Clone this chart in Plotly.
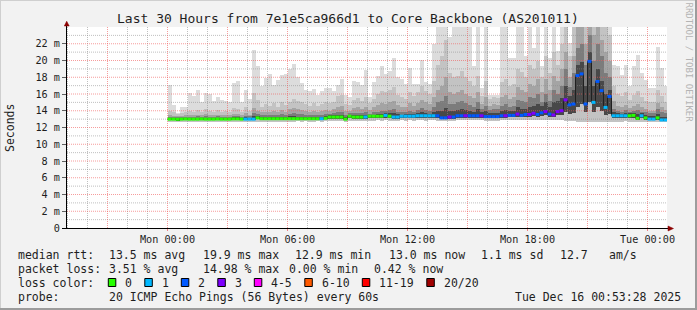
import plotly.graph_objects as go

# ---------------- data ----------------
bin_start_hour = 0.0      # first consolidated sample: Mon 00:00
bin_hours = 0.2           # 12-minute step

median_ms = [
    13.0, 13.0, 12.98, 13.0, 13.02, 13.0, 13.0, 13.0, 13.02, 13.0,
    13.0, 13.0, 13.02, 13.0, 13.0, 13.0, 13.03, 13.03, 13.0, 13.0,
    13.0, 13.0, 13.15, 13.05, 13.05, 13.05, 13.05, 13.05, 13.05, 13.05,
    13.05, 13.05, 13.05, 13.05, 13.05, 13.05, 13.05, 13.05, 13.05, 13.1,
    13.25, 13.25, 13.25, 13.25, 13.0, 13.35, 13.25, 13.25, 13.25, 13.25,
    13.35, 13.35, 13.35, 13.35, 13.45, 13.35, 13.25, 13.25, 13.35, 13.35,
    13.35, 13.35, 13.4, 13.4, 13.4, 13.4, 13.4, 13.4, 13.15, 13.15,
    13.25, 13.25, 13.4, 13.4, 13.4, 13.4, 13.4, 13.4, 13.4, 13.3,
    13.3, 13.3, 13.3, 13.4, 13.4, 13.45, 13.45, 13.6, 13.45, 13.55,
    13.55, 13.7, 13.55, 13.75, 13.9, 13.6, 13.5, 13.9, 14.0, 15.3,
    14.7, 14.8, 18.2, 18.4, 14.8, 19.9, 15.0, 17.5, 16.4, 14.4,
    15.7, 13.4, 13.4, 13.4, 13.4, 13.4, 13.45, 13.1, 13.4, 13.15,
    13.0, 13.0, 13.15, 12.9, 12.9,
]

loss_idx = [
    0, 0, 0, 0, 0, 0, 0, 0, 0, 0,
    0, 0, 0, 0, 0, 0, 0, 0, 0, 1,
    1, 1, 0, 0, 0, 0, 0, 0, 0, 0,
    0, 0, 0, 0, 0, 0, 0, 0, 1, 0,
    0, 0, 0, 0, 0, 0, 0, 0, 0, 1,
    0, 0, 0, 0, 1, 0, 1, 1, 1, 1,
    1, 1, 1, 1, 1, 1, 1, 2, 2, 2,
    3, 2, 2, 2, 3, 2, 2, 2, 3, 2,
    2, 2, 2, 2, 3, 2, 2, 3, 2, 2,
    3, 3, 2, 2, 3, 2, 3, 3, 3, 3,
    2, 2, 2, 2, 2, 2, 1, 2, 2, 1,
    2, 1, 1, 1, 1, 0, 0, 0, 1, 0,
    1, 1, 0, 1, 1,
]

smoke_max = [
    17.1, 14.7, 13.7, 14.5, 14.5, 16.1, 15.8, 16.5, 15.0, 16.1,
    16.0, 15.2, 15.6, 15.3, 15.2, 15.0, 17.3, 17.6, 15.0, 16.5,
    15.4, 21.2, 19.4, 16.9, 17.9, 18.4, 17.1, 17.7, 18.3, 18.4,
    19.0, 19.6, 18.0, 17.3, 16.5, 16.3, 16.6, 15.9, 16.4, 16.7,
    16.7, 16.4, 17.1, 17.8, 15.9, 15.7, 17.6, 17.4, 17.1, 18.9,
    15.6, 17.4, 18.1, 19.4, 18.4, 18.8, 20.3, 18.0, 17.8, 17.2,
    19.1, 17.2, 17.2, 20.1, 17.4, 17.2, 22.0, 24.5, 24.5, 24.5,
    22.8, 24.5, 24.5, 24.5, 24.5, 24.5, 19.3, 24.5, 16.7, 24.5,
    15.9, 15.9, 15.9, 24.5, 24.5, 20.3, 20.3, 24.5, 24.5, 20.5,
    24.5, 21.5, 24.5, 19.3, 24.5, 20.3, 24.5, 21.1, 24.5, 24.5,
    22.1, 24.5, 24.5, 24.5, 24.5, 24.5, 24.5, 24.5, 24.5, 24.5,
    24.5, 19.5, 19.3, 18.3, 19.5, 16.9, 19.3, 20.7, 18.5, 17.7,
    16.7, 16.7, 21.6, 19.1, 17.0,
]

smoke_hi = [
    14.0, 13.8, 13.6, 13.7, 13.8, 14.0, 13.9, 14.1, 13.8, 14.2,
    14.0, 13.9, 14.1, 13.9, 14.0, 13.8, 14.3, 14.2, 13.9, 14.4,
    14.0, 16.1, 15.3, 14.5, 14.8, 14.6, 14.9, 14.4, 15.0, 14.7,
    15.1, 15.4, 15.2, 15.0, 14.8, 14.6, 14.9, 14.6, 14.8, 15.0,
    14.9, 15.1, 15.8, 15.9, 14.8, 14.7, 15.3, 15.5, 15.2, 15.6,
    14.9, 15.4, 16.0, 16.4, 16.2, 16.5, 16.8, 15.9, 15.6, 15.4,
    16.2, 15.8, 16.2, 17.0, 16.4, 16.0, 17.5, 19.5, 20.5, 22.5,
    18.5, 18.0, 18.2, 18.8, 18.0, 17.6, 17.0, 18.2, 15.8, 17.5,
    15.4, 15.6, 15.5, 17.4, 17.8, 17.0, 17.2, 19.0, 18.6, 18.0,
    19.5, 19.0, 20.0, 18.0, 20.5, 18.5, 21.0, 19.5, 22.0, 24.5,
    20.5, 24.5, 24.5, 24.5, 24.5, 24.5, 24.5, 24.5, 24.5, 24.5,
    23.0, 17.0, 16.0, 15.8, 16.2, 15.3, 15.9, 16.4, 15.6, 15.2,
    15.0, 15.0, 16.5, 15.8, 15.0,
]

smoke_mid = [
    13.5, 13.4, 13.35, 13.4, 13.45, 13.5, 13.5, 13.55, 13.45, 13.6,
    13.5, 13.45, 13.55, 13.5, 13.5, 13.45, 13.6, 13.6, 13.5, 13.7,
    13.55, 14.3, 14.0, 13.8, 13.9, 13.85, 14.0, 13.8, 14.1, 13.9,
    14.2, 14.3, 14.2, 14.1, 14.0, 13.9, 14.0, 13.9, 14.0, 14.1,
    14.0, 14.2, 14.5, 14.6, 14.0, 14.0, 14.3, 14.4, 14.2, 14.5,
    14.1, 14.4, 14.7, 14.9, 14.8, 15.0, 15.2, 14.7, 14.5, 14.4,
    14.9, 14.6, 14.9, 15.3, 15.0, 14.8, 15.6, 16.5, 17.0, 18.0,
    16.2, 16.0, 16.2, 16.5, 16.0, 15.8, 15.5, 16.2, 14.8, 15.7,
    14.6, 14.8, 14.7, 15.6, 15.9, 15.4, 15.6, 16.8, 16.5, 16.2,
    17.2, 17.0, 17.8, 16.2, 17.8, 16.5, 18.2, 17.5, 19.0, 21.0,
    18.0, 20.5, 24.5, 24.5, 22.0, 24.5, 23.0, 24.5, 22.5, 21.0,
    20.0, 15.2, 14.6, 14.5, 14.7, 14.3, 14.6, 14.8, 14.4, 14.2,
    14.0, 14.0, 14.9, 14.5, 14.1,
]

smoke_low = [
    13.3, 13.25, 13.2, 13.25, 13.3, 13.3, 13.3, 13.35, 13.3, 13.35,
    13.3, 13.3, 13.35, 13.3, 13.3, 13.3, 13.4, 13.4, 13.3, 13.4,
    13.35, 13.7, 13.6, 13.45, 13.5, 13.5, 13.55, 13.45, 13.6, 13.5,
    13.65, 13.7, 13.65, 13.6, 13.55, 13.5, 13.55, 13.5, 13.55, 13.6,
    13.65, 13.7, 13.8, 13.85, 13.5, 13.7, 13.7, 13.75, 13.7, 13.8,
    13.65, 13.8, 13.9, 14.0, 14.0, 14.1, 14.2, 13.9, 13.85, 13.8,
    14.0, 13.9, 14.1, 14.3, 14.1, 14.0, 14.5, 15.0, 15.2, 15.8,
    14.8, 14.8, 15.0, 15.2, 14.9, 14.7, 14.5, 15.0, 14.2, 14.6,
    14.1, 14.2, 14.2, 14.6, 14.8, 14.5, 14.6, 15.3, 15.2, 15.0,
    15.6, 15.5, 16.0, 15.0, 16.0, 15.2, 16.5, 16.0, 17.0, 19.0,
    16.8, 18.5, 21.5, 22.0, 19.5, 23.0, 20.0, 22.0, 20.5, 18.5,
    18.0, 14.2, 14.0, 13.9, 14.1, 13.9, 14.0, 14.1, 13.9, 13.8,
    13.7, 13.7, 14.2, 13.9, 13.7,
]

smoke_core = [
    13.15, 13.1, 13.1, 13.12, 13.15, 13.15, 13.15, 13.18, 13.15, 13.18,
    13.15, 13.15, 13.18, 13.15, 13.15, 13.15, 13.2, 13.2, 13.15, 13.2,
    13.18, 13.4, 13.35, 13.25, 13.25, 13.28, 13.3, 13.25, 13.3, 13.28,
    13.35, 13.35, 13.3, 13.28, 13.25, 13.25, 13.25, 13.25, 13.28, 13.35,
    13.45, 13.5, 13.55, 13.55, 13.3, 13.55, 13.5, 13.5, 13.45, 13.5,
    13.55, 13.55, 13.6, 13.65, 13.7, 13.7, 13.75, 13.6, 13.55, 13.6,
    13.65, 13.6, 13.7, 13.8, 13.7, 13.65, 13.9, 14.0, 14.0, 14.3,
    14.0, 14.0, 14.1, 14.2, 14.1, 14.0, 13.9, 14.2, 13.8, 14.0,
    13.7, 13.75, 13.75, 14.0, 14.1, 13.95, 14.0, 14.4, 14.2, 14.2,
    14.5, 14.6, 14.8, 14.6, 15.0, 14.5, 15.0, 15.2, 15.5, 17.0,
    15.8, 16.5, 19.5, 19.8, 17.0, 21.0, 17.0, 19.0, 17.5, 16.0,
    16.5, 13.8, 13.7, 13.65, 13.75, 13.7, 13.75, 13.6, 13.7, 13.5,
    13.4, 13.4, 13.6, 13.3, 13.25,
]

smoke_min = [
    12.7, 12.7, 12.7, 12.65, 12.7, 12.65, 12.7, 12.7, 12.65, 12.7,
    12.7, 12.65, 12.7, 12.7, 12.7, 12.65, 12.7, 12.7, 12.7, 12.65,
    12.7, 12.65, 12.7, 12.7, 12.65, 12.7, 12.7, 12.7, 12.65, 12.7,
    12.7, 12.7, 12.72, 12.7, 12.75, 12.7, 12.7, 12.72, 12.7, 12.75,
    12.75, 12.8, 12.8, 12.75, 12.7, 12.8, 12.8, 12.75, 12.8, 12.8,
    12.8, 12.8, 12.85, 12.8, 12.85, 12.8, 12.8, 12.8, 12.85, 12.8,
    12.85, 12.8, 12.85, 12.85, 12.8, 12.85, 12.85, 12.8, 12.75, 12.75,
    12.8, 12.8, 12.85, 12.85, 12.85, 12.85, 12.85, 12.85, 12.85, 12.8,
    12.8, 12.8, 12.8, 12.85, 12.85, 12.85, 12.85, 12.85, 12.85, 12.9,
    12.9, 12.9, 12.9, 12.9, 12.9, 12.85, 12.85, 12.85, 12.85, 12.8,
    12.8, 12.75, 12.7, 12.6, 12.6, 12.6, 12.6, 12.6, 12.6, 12.6,
    12.6, 12.7, 12.7, 12.7, 12.75, 12.7, 12.7, 12.7, 12.7, 12.7,
    12.65, 12.65, 12.7, 12.6, 12.6,
]

smoke_floor = [
    12.9, 12.9, 12.88, 12.9, 12.92, 12.9, 12.9, 12.9, 12.92, 12.9,
    12.9, 12.9, 12.92, 12.9, 12.9, 12.9, 12.92, 12.92, 12.9, 12.9,
    12.9, 12.9, 13.0, 12.95, 12.95, 12.95, 12.95, 12.95, 12.95, 12.95,
    12.95, 12.95, 12.95, 12.95, 12.95, 12.95, 12.95, 12.95, 12.95, 13.0,
    13.05, 13.05, 13.05, 13.05, 12.9, 13.1, 13.05, 13.05, 13.05, 13.05,
    13.1, 13.1, 13.1, 13.1, 13.15, 13.1, 13.05, 13.05, 13.1, 13.1,
    13.1, 13.1, 13.15, 13.15, 13.15, 13.15, 13.15, 13.15, 13.0, 13.0,
    13.05, 13.05, 13.15, 13.15, 13.15, 13.15, 13.15, 13.15, 13.15, 13.1,
    13.1, 13.1, 13.1, 13.15, 13.15, 13.2, 13.2, 13.3, 13.2, 13.25,
    13.25, 13.35, 13.25, 13.4, 13.5, 13.3, 13.2, 13.5, 13.55, 13.8,
    13.6, 13.7, 14.5, 14.8, 13.8, 15.0, 13.9, 14.5, 14.0, 13.5,
    13.6, 13.1, 13.1, 13.1, 13.1, 13.1, 13.15, 12.9, 13.1, 12.95,
    12.9, 12.9, 12.95, 12.8, 12.8,
]

loss_labels = ["0", "1", "2", "3", "4-5", "6-10", "11-19", "20/20"]
loss_colors = ["#26ff00", "#00b8ff", "#0059ff", "#7e00ff",
               "#ff00ff", "#ff5a00", "#ff0000", "#a00000"]

x_tick_hours = [0, 6, 12, 18, 24]
x_tick_text = ["Mon 00:00", "Mon 06:00", "Mon 12:00", "Mon 18:00", "Tue 00:00"]
y_tick_vals = [0, 2, 4, 6, 8, 10, 12, 14, 16, 18, 20, 22]
y_tick_text = ["0", "2 m", "4 m", "6 m", "8 m", "10 m", "12 m", "14 m",
               "16 m", "18 m", "20 m", "22 m"]

title_text = "Last 30 Hours from 7e1e5ca966d1 to Core Backbone (AS201011)"
y_title = "Seconds"
side_text = "RRDTOOL / TOBI OETIKER"
rtt_label = "median rtt:"
rtt_stats = ["13.5 ms avg", "19.9 ms max", "12.9 ms min", "13.0 ms now",
             "1.1 ms sd", "12.7", "am/s"]
loss_label = "packet loss:"
loss_stats = ["3.51 % avg", "14.98 % max", "0.00 % min", "0.42 % now"]
color_label = "loss color:"
probe_label = "probe:"
probe_text = "20 ICMP Echo Pings (56 Bytes) every 60s"
stamp_text = "Tue Dec 16 00:53:28 2025"

n = len(median_ms)
for arr in (loss_idx, smoke_max, smoke_hi, smoke_mid, smoke_low, smoke_core,
            smoke_min, smoke_floor):
    assert len(arr) == n, len(arr)

# ---------------- layout constants ----------------
W, H = 697, 310
PL, PR, PT, PB = 67, 667, 27, 228
X0, X1 = -5.025, 24.975
Y0, Y1 = 0.0, 24.0
MONO = "DejaVu Sans Mono"
TXT = "#1e1e1e"


def px(x):
    return (x - PL) / (PR - PL)


def py(y):
    return (PB - y) / (PB - PT)


fig = go.Figure()

# ---------------- smoke ----------------
centers = [bin_start_hour + (i + 0.5) * bin_hours for i in range(n)]
tiers = [
    (smoke_min, smoke_max, "#dcdcdc"),
    (smoke_min, smoke_hi, "#c3c3c3"),
    (smoke_floor, smoke_mid, "#a4a4a4"),
    (smoke_floor, smoke_low, "#7c7c7c"),
    (smoke_floor, smoke_core, "#484848"),
]
for lo, hi, col in tiers:
    fig.add_trace(go.Bar(
        x=centers, y=[h - l for h, l in zip(hi, lo)], base=lo,
        width=bin_hours, marker=dict(color=col, line=dict(width=0)),
        hoverinfo="skip", showlegend=False))

# ---------------- grid (drawn over the smoke) ----------------
def vlines(hours):
    xs, ys = [], []
    for h in hours:
        xs += [h, h, None]
        ys += [Y0, Y1, None]
    return xs, ys


def hlines(vals):
    xs, ys = [], []
    for v in vals:
        xs += [X0, X1, None]
        ys += [v, v, None]
    return xs, ys


minor_h = [h for h in range(-5, 25) if h % 3 != 0]
major_h = [h for h in range(-3, 25) if h % 3 == 0]
minor_v = [v for v in range(1, 24) if v % 2 == 1]
major_v = [v for v in range(2, 24) if v % 2 == 0]
for (xs, ys), col in [(vlines(minor_h), "rgba(140,140,140,0.55)"),
                      (hlines(minor_v), "rgba(140,140,140,0.55)"),
                      (vlines(major_h), "rgba(240,90,90,0.6)"),
                      (hlines(major_v), "rgba(240,90,90,0.6)")]:
    fig.add_trace(go.Scatter(x=xs, y=ys, mode="lines",
                             line=dict(color=col, width=1, dash="1px,1px"),
                             hoverinfo="skip", showlegend=False))

# ---------------- median ----------------
edges = [bin_start_hour + i * bin_hours for i in range(n + 1)]
fig.add_trace(go.Scatter(x=edges, y=median_ms + [median_ms[-1]], mode="lines",
                         line=dict(shape="hv", color="#202020", width=1),
                         hoverinfo="skip", showlegend=False))
for k, col in enumerate(loss_colors):
    xs, ys = [], []
    for i in range(n):
        if loss_idx[i] == k:
            xs += [edges[i], edges[i + 1], None]
            ys += [median_ms[i], median_ms[i], None]
    if xs:
        fig.add_trace(go.Scatter(x=xs, y=ys, mode="lines",
                                 line=dict(color=col, width=3),
                                 hoverinfo="skip", showlegend=False))

# ---------------- shapes: frame, axes, arrows, legend boxes ----------------
shapes = []
# page border (3D look)
shapes.append(dict(type="line", xref="paper", yref="paper",
                   x0=px(0), x1=px(W), y0=py(0.5), y1=py(0.5),
                   line=dict(color="#cfcfcf", width=1)))
shapes.append(dict(type="line", xref="paper", yref="paper",
                   x0=px(0.5), x1=px(0.5), y0=py(0), y1=py(H),
                   line=dict(color="#cfcfcf", width=1)))
shapes.append(dict(type="line", xref="paper", yref="paper",
                   x0=px(0), x1=px(W), y0=py(H - 1), y1=py(H - 1),
                   line=dict(color="#9c9c9c", width=2)))
shapes.append(dict(type="line", xref="paper", yref="paper",
                   x0=px(W - 1), x1=px(W - 1), y0=py(0), y1=py(H),
                   line=dict(color="#9c9c9c", width=2)))
# axes
shapes.append(dict(type="line", xref="paper", yref="paper",
                   x0=px(66.5), x1=px(66.5), y0=py(228.5), y1=py(25),
                   line=dict(color="#000000", width=1)))
shapes.append(dict(type="line", xref="paper", yref="paper",
                   x0=px(62), x1=px(669), y0=py(228.5), y1=py(228.5),
                   line=dict(color="#000000", width=1)))
# arrows
shapes.append(dict(type="path", xref="paper", yref="paper",
                   path="M {} {} L {} {} L {} {} Z".format(
                       px(64.3), py(26), px(69.2), py(26), px(66.7), py(21.2)),
                   fillcolor="#8b0000", line=dict(color="#8b0000", width=0.5)))
shapes.append(dict(type="path", xref="paper", yref="paper",
                   path="M {} {} L {} {} L {} {} Z".format(
                       px(668), py(226), px(668), py(231), px(673.5), py(228.5)),
                   fillcolor="#8b0000", line=dict(color="#8b0000", width=0.5)))

annotations = []


def add_text(text, x, y, size=11.5, xanchor="left", color=TXT, angle=0):
    annotations.append(dict(
        text=text, x=px(x), y=py(y), xref="paper", yref="paper",
        xanchor=xanchor, yanchor="middle", showarrow=False, textangle=angle,
        font=dict(family=MONO, size=size, color=color)))


# title and side texts
add_text(title_text, 347.5, 18.5, size=13, xanchor="center")
add_text(y_title, 10, 128, size=11.5, xanchor="center", angle=-90)
add_text(side_text, 688.5, 62, size=9, xanchor="center", color="#b4b4b4", angle=90)

# legend rows
row_y = [254.5, 268.5, 282.5, 296.5]
add_text(rtt_label, 16, row_y[0])
for s, x in zip(rtt_stats, [107, 201, 293, 386.7, 479.3, 558, 607]):
    add_text(s, x, row_y[0])
add_text(loss_label, 16, row_y[1])
for s, x in zip(loss_stats, [107, 201, 286.7, 371.7]):
    add_text(s, x, row_y[1])
add_text(color_label, 16, row_y[2])
bx = 108.3
for lab, col in zip(loss_labels, loss_colors):
    shapes.append(dict(type="rect", xref="paper", yref="paper",
                       x0=px(bx), x1=px(bx + 7.5), y0=py(286.5), y1=py(278.5),
                       fillcolor=col, line=dict(color="#000000", width=1)))
    add_text(lab, bx + 15, row_y[2])
    bx += 15.5 + (len(lab) + 2) * 7.0
add_text(probe_label, 16, row_y[3])
add_text(probe_text, 107, row_y[3])
add_text(stamp_text, 513.3, row_y[3])

fig.update_layout(
    width=W, height=H, autosize=False,
    margin=dict(l=PL, r=W - PR, t=PT, b=H - PB, pad=0),
    paper_bgcolor="#f2f2f2", plot_bgcolor="#ffffff",
    barmode="overlay", bargap=0,
    showlegend=False,
    shapes=shapes, annotations=annotations,
    xaxis=dict(range=[X0, X1], showgrid=False, zeroline=False, showline=False,
               tickmode="array", tickvals=x_tick_hours, ticktext=x_tick_text,
               ticks="outside", ticklen=2, tickcolor="#f08080",
               tickfont=dict(family=MONO, size=10.2, color=TXT)),
    yaxis=dict(range=[Y0, Y1], showgrid=False, zeroline=False, showline=False,
               tickmode="array", tickvals=y_tick_vals, ticktext=y_tick_text,
               ticks="outside", ticklen=4, tickcolor="#606060",
               tickfont=dict(family=MONO, size=10.2, color=TXT)),
)

fig.write_html("out.html", config={"displayModeBar": False})
